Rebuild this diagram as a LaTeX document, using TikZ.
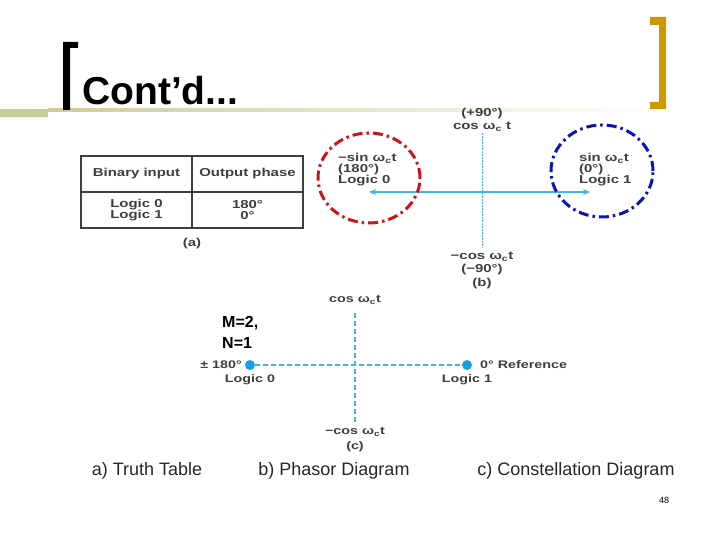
\documentclass[tikz,border=0pt]{standalone}
\usepackage{fontspec}
\setmainfont{Liberation Sans}
\newfontfamily\figfont[FakeStretch=1.3]{Liberation Sans}
\usetikzlibrary{arrows.meta,positioning,calc}
\definecolor{titleolive}{RGB}{204,204,153}
\definecolor{bracketgold}{RGB}{204,153,0}
\definecolor{figgray}{RGB}{62,62,62}
\definecolor{axisblue}{RGB}{70,180,225}
\definecolor{dotblue}{RGB}{25,160,230}
\definecolor{ringred}{RGB}{205,20,20}
\definecolor{ringblue}{RGB}{10,20,180}
\newcommand{\wc}{ω\textsubscript{c}}
\tikzset{
  figlabel/.style={
    inner sep=0pt, align=center, text=figgray,
    font=\figfont\bfseries\fontsize{11.5}{11}\selectfont
  },
  smalllabel/.style={
    figlabel, font=\figfont\bfseries\fontsize{11}{11}\selectfont
  },
  caption/.style={
    inner sep=0pt, text=black!85, font=\fontsize{18}{20}\selectfont
  },
  axis/.style={draw=axisblue, line width=1pt, dash pattern=on 2pt off 1pt},
  refaxis/.style={draw=axisblue, line width=1.2pt, dash pattern=on 5pt off 3pt},
  phasor/.style={-{Stealth[length=7pt,width=6pt]}, draw=axisblue, line width=1.8pt},
  ring/.style={line width=3pt, dash pattern=on 10pt off 4pt on 2.5pt off 4pt},
  symdot/.style={circle, fill=dotblue, minimum size=10pt, inner sep=0pt}
}

\begin{document}
\begin{tikzpicture}[x=1pt,y=1pt]
  \useasboundingbox (0,0) rectangle (720,540);

  % Slide title
  \fill[titleolive] (0,423) rectangle (48,431);
  \shade[left color=titleolive, right color=white] (48,428.5) rectangle (660,431);
  \fill[black] (63,498) -- (78,498) -- (78,492) -- (70,492) -- (70,430) -- (63,430) -- cycle;
  \fill[bracketgold] (650,523) -- (666,523) -- (666,431) -- (650,431) -- (650,438)
    -- (659,438) -- (659,515) -- (650,515) -- cycle;
  \node[anchor=base west, inner sep=0pt, font=\bfseries\fontsize{39}{42}\selectfont]
    (title) at (82,435) {Cont’d...};

  % (a) truth table
  \draw[figgray, line width=1.2pt] (81,312) rectangle (303,384);
  \draw[figgray, line width=1.2pt] (81,348) -- (303,348) (192,312) -- (192,384);
  \node[figlabel] (hin) at (136.5,366) {Binary input};
  \node[figlabel] (hout) at (247.5,366) {Output phase};
  \node[figlabel] (vin) at (136.5,330) {Logic 0\\Logic 1};
  \node[figlabel] (vout) at (247.5,330) {180°\\0°};
  \node[figlabel] (taga) at (192,296) {(a)};

  % (b) phasor diagram
  \coordinate (ob) at (482,348);
  \coordinate (btop) at (482,407);
  \coordinate (bbot) at (482,292);
  \coordinate (bleft) at (369,348);
  \coordinate (bright) at (590,348);
  \draw[axis] (btop) -- (bbot);
  \draw[phasor] (ob) -- (bleft);
  \draw[phasor] (ob) -- (bright);
  \node[figlabel] (bcos) at (482,413) {cos \wc\ t};
  \node[figlabel, above=3pt of bcos] (bplus) {(+90°)};
  \node[figlabel, anchor=west, align=left] (blogic0) at (338,370)
    {−sin \wc t\\(180°)\\Logic 0};
  \node[figlabel, anchor=west, align=left] (blogic1) at (579,370)
    {sin \wc t\\(0°)\\Logic 1};
  \node[figlabel] (bncos) at (482,283) {−cos \wc t};
  \node[figlabel, below=2pt of bncos] (bminus) {(−90°)};
  \node[figlabel, below=3pt of bminus] (tagb) {(b)};
  \draw[ring, ringred] (369,362) ellipse [x radius=51, y radius=45];
  \draw[ring, ringblue] (602,369) ellipse [x radius=51, y radius=46];

  % (c) constellation diagram
  \coordinate (ctop) at (355,227);
  \coordinate (cbot) at (355,115);
  \node[symdot] (s0) at (250,175) {};
  \node[symdot] (s1) at (467,175) {};
  \draw[refaxis] (s0) -- (s1);
  \draw[refaxis] (ctop) -- (cbot);
  \node[smalllabel] (ccos) at (355,240) {cos \wc t};
  \node[smalllabel] (cncos) at (355,108) {−cos \wc t};
  \node[smalllabel, below=5pt of cncos] (tagc) {(c)};
  \node[smalllabel, anchor=east] (c180) at (242,175) {± 180°};
  \node[smalllabel] (clogic0) at (250,160) {Logic 0};
  \node[smalllabel, anchor=west] (cref) at (480,175) {0° Reference};
  \node[smalllabel] (clogic1) at (467,160) {Logic 1};
  \node[anchor=west, inner sep=0pt, align=left,
    font=\bfseries\fontsize{16}{21}\selectfont] (mn) at (222,208) {M=2,\\N=1};

  % captions
  \node[caption] (capa) at (147,69) {a) Truth Table};
  \node[caption] (capb) at (334,69) {b) Phasor Diagram};
  \node[caption] (capc) at (576,69) {c) Constellation Diagram};
  \node[inner sep=0pt, font=\fontsize{9}{10}\selectfont] (page) at (664,40) {48};
\end{tikzpicture}
\end{document}
